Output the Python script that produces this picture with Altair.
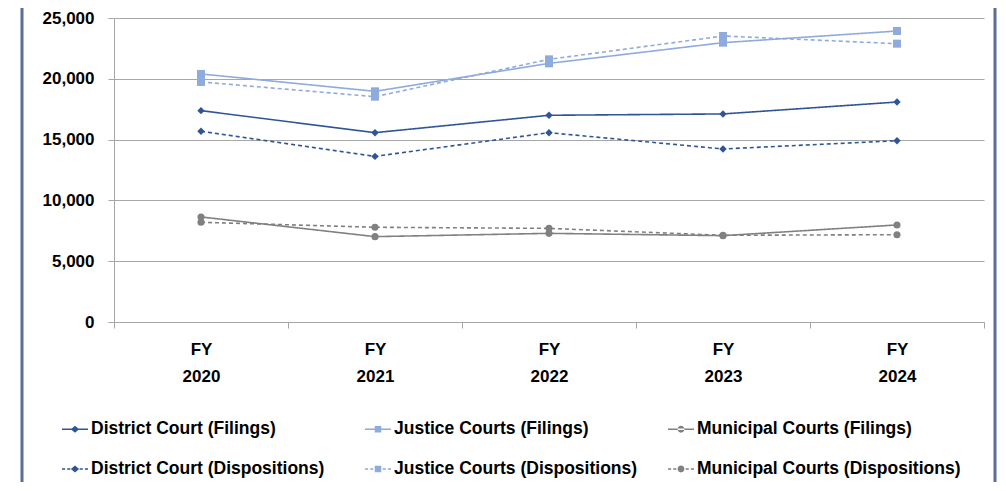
import altair as alt
import pandas as pd

years = ["FY 2020", "FY 2021", "FY 2022", "FY 2023", "FY 2024"]
district_filings = [17380, 15570, 17000, 17110, 18090]
district_dispositions = [15680, 13620, 15570, 14230, 14910]
justice_filings = [20400, 18970, 21270, 22970, 23930]
justice_dispositions = [19740, 18530, 21600, 23520, 22890]
municipal_filings = [8640, 7020, 7290, 7100, 7980]
municipal_dispositions = [8200, 7790, 7700, 7130, 7180]

# legend order (filled column by column: 3 columns x 2 rows)
series_names = [
    "District Court (Filings)",
    "District Court (Dispositions)",
    "Justice Courts (Filings)",
    "Justice Courts (Dispositions)",
    "Municipal Courts (Filings)",
    "Municipal Courts (Dispositions)",
]
series_values = [
    district_filings, district_dispositions,
    justice_filings, justice_dispositions,
    municipal_filings, municipal_dispositions,
]
series_kind = ["Filings", "Dispositions", "Filings", "Dispositions", "Filings", "Dispositions"]
series_colors = ["#2F5597", "#2F5597", "#8FAADC", "#8FAADC", "#808080", "#808080"]
series_marker = ["diamond", "diamond", "square", "square", "circle", "circle"]
series_msize = [55, 55, 64, 64, 50, 50]

rows = []
for name, vals, kind, col, mk, ms in zip(series_names, series_values, series_kind,
                                         series_colors, series_marker, series_msize):
    for y, v in zip(years, vals):
        rows.append({"year": y, "value": v, "series": name, "kind": kind,
                     "col": col, "marker": mk, "msize": ms})
df = pd.DataFrame(rows)

# legend symbol paths (line + marker)
def seg(a, b, h=0.06):
    return f"M{a},{-h}H{b}V{h}H{a}Z"

solid = seg(-1, 1)
dashed = seg(-1, -0.76) + seg(-0.6, -0.36) + seg(0.36, 0.6) + seg(0.76, 1)
diamond = "M-0.32,0L0,-0.26L0.32,0L0,0.26Z"
square = "M-0.25,-0.25H0.25V0.25H-0.25Z"
circle = "M-0.26,0A0.26,0.26,0,1,0,0.26,0A0.26,0.26,0,1,0,-0.26,0Z"
marker_path = {"diamond": diamond, "square": square, "circle": circle}
legend_paths = [(solid if k == "Filings" else dashed) + marker_path[m]
                for k, m in zip(series_kind, series_marker)]

FONT = "Liberation Sans"
GRID = "#a6a6a6"

x_enc = alt.X(
    "year:N",
    sort=years,
    scale=alt.Scale(type="band", paddingInner=0, paddingOuter=0),
    axis=alt.Axis(
        title=None, labelAngle=0, labelExpr="split(datum.label, ' ')",
        labelLineHeight=27, labelPadding=13, labelFont=FONT, labelFontSize=17,
        labelFontWeight="bold", labelColor="black", tickBand="extent", tickSize=6,
        tickColor=GRID, domainColor=GRID, grid=False,
    ),
)
y_enc = alt.Y(
    "value:Q",
    scale=alt.Scale(domain=[0, 25000], nice=False),
    axis=alt.Axis(
        title=None, values=[0, 5000, 10000, 15000, 20000, 25000], format=",.0f",
        labelFont=FONT, labelFontSize=17, labelFontWeight="bold", labelColor="black",
        labelPadding=14, tickSize=6, tickColor=GRID, gridColor=GRID, domainColor=GRID,
    ),
)

lines = alt.Chart(df).mark_line(strokeWidth=1.6).encode(
    x=x_enc, y=y_enc,
    color=alt.Color("col:N", scale=None),
    strokeDash=alt.StrokeDash("kind:N", scale=alt.Scale(domain=["Filings", "Dispositions"], range=[[1, 0], [4, 3]]), legend=None),
    detail="series:N",
)

markers = alt.Chart(df).mark_point(filled=True, opacity=1, strokeWidth=0).encode(
    x=x_enc, y=y_enc,
    color=alt.Color("col:N", scale=None),
    shape=alt.Shape("marker:N", scale=None),
    size=alt.Size("msize:Q", scale=None),
)

leg = alt.Legend(
    title=None, orient="none", legendX=-52, legendY=398, columns=3, gridAlign="all",
    columnPadding=10, rowPadding=18, symbolSize=676, symbolStrokeWidth=0,
    symbolOpacity=1, labelFont=FONT, labelFontSize=17.5, labelFontWeight="bold",
    labelColor="black", labelOffset=3, labelLimit=500,
)
legend_layer = alt.Chart(df).mark_point(filled=True, opacity=1).encode(
    color=alt.Color("series:N", scale=alt.Scale(domain=series_names, range=series_colors), legend=leg),
    shape=alt.Shape("series:N", scale=alt.Scale(domain=series_names, range=legend_paths), legend=leg),
).transform_filter("false")

one = pd.DataFrame({"a": [0]})
left_border = alt.Chart(one).mark_rule(color="#5B6E94", strokeWidth=3).encode(
    x=alt.value(-92), y=alt.value(-20), y2=alt.value(500))
right_border = alt.Chart(one).mark_rule(color="#5B6E94", strokeWidth=3).encode(
    x=alt.value(881), y=alt.value(-20), y2=alt.value(500))

chart = alt.layer(lines, markers, legend_layer, left_border, right_border).properties(
    width=870, height=304,
    autosize=alt.AutoSizeParams(type="none"),
    padding={"left": 106, "top": 10, "right": 14, "bottom": 160},
).configure_view(stroke=None)

chart.save("out.html", embed_options={"renderer": "svg", "actions": False})
